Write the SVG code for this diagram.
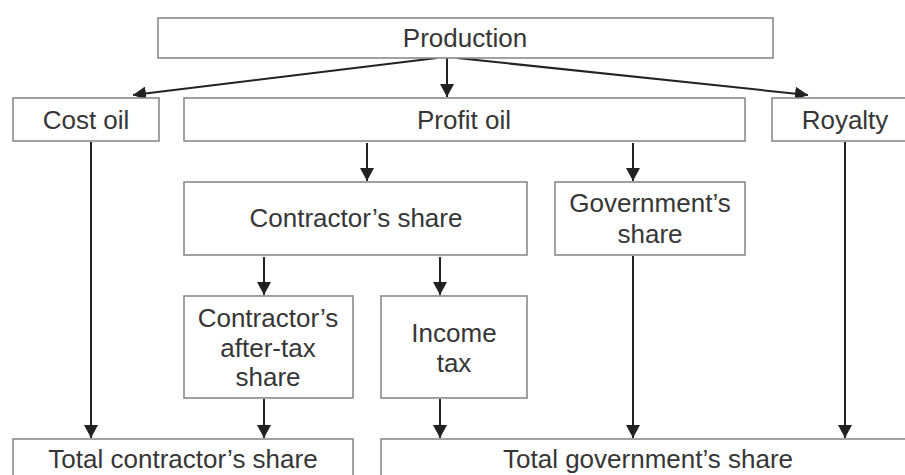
<svg xmlns="http://www.w3.org/2000/svg" width="905" height="475" viewBox="0 0 905 475">
<style>
  .box { fill: #ffffff; stroke: #8a8a8a; stroke-width: 1.6; }
  .lbl { font-family: "Liberation Sans", Arial, sans-serif; font-size: 26px; fill: #363636; text-anchor: middle; }
  .con { stroke: #222222; stroke-width: 2; fill: none; marker-end: url(#ah); }
</style>
<defs>
  <marker id="ah" viewBox="0 0 13 14" refX="13" refY="7" markerWidth="13" markerHeight="14" markerUnits="userSpaceOnUse" orient="auto">
    <path d="M0,0 L13,7 L0,14 z" fill="#222222"/>
  </marker>
</defs>
<rect width="905" height="475" fill="#ffffff"/>

<g id="connectors">
  <line class="con" x1="437" y1="58" x2="133" y2="95"/>
  <line class="con" x1="447" y1="58" x2="447" y2="97"/>
  <line class="con" x1="457" y1="58" x2="808" y2="95"/>
  <line class="con" x1="367" y1="143" x2="367" y2="181"/>
  <line class="con" x1="633" y1="143" x2="633" y2="181"/>
  <line class="con" x1="264" y1="257" x2="264" y2="295"/>
  <line class="con" x1="440" y1="257" x2="440" y2="295"/>
  <line class="con" x1="91" y1="142" x2="91" y2="438"/>
  <line class="con" x1="264" y1="399" x2="264" y2="438"/>
  <line class="con" x1="440" y1="399" x2="440" y2="438"/>
  <line class="con" x1="633" y1="256" x2="633" y2="438"/>
  <line class="con" x1="845" y1="142" x2="845" y2="438"/>
</g>

<g id="production">
  <rect class="box" x="158" y="18" width="615" height="40"/>
  <text class="lbl" x="465" y="47">Production</text>
</g>
<g id="cost-oil">
  <rect class="box" x="13" y="98" width="146" height="43"/>
  <text class="lbl" x="86" y="129">Cost oil</text>
</g>
<g id="profit-oil">
  <rect class="box" x="184" y="98" width="561" height="43"/>
  <text class="lbl" x="464" y="129">Profit oil</text>
</g>
<g id="royalty">
  <rect class="box" x="772" y="98" width="146" height="43"/>
  <text class="lbl" x="845" y="129">Royalty</text>
</g>
<g id="contractors-share">
  <rect class="box" x="184" y="182" width="343" height="73"/>
  <text class="lbl" x="356" y="227">Contractor’s share</text>
</g>
<g id="governments-share">
  <rect class="box" x="555" y="182" width="190" height="73"/>
  <text class="lbl" x="650" y="212">Government’s</text>
  <text class="lbl" x="650" y="243">share</text>
</g>
<g id="after-tax-share">
  <rect class="box" x="184" y="296" width="169" height="102"/>
  <text class="lbl" x="268" y="327">Contractor’s</text>
  <text class="lbl" x="268" y="357">after-tax</text>
  <text class="lbl" x="268" y="386">share</text>
</g>
<g id="income-tax">
  <rect class="box" x="381" y="296" width="146" height="102"/>
  <text class="lbl" x="454" y="342">Income</text>
  <text class="lbl" x="454" y="372">tax</text>
</g>
<g id="total-contractor">
  <rect class="box" x="13" y="439" width="340" height="60"/>
  <text class="lbl" x="183" y="468">Total contractor’s share</text>
</g>
<g id="total-government">
  <rect class="box" x="381" y="439" width="534" height="60"/>
  <text class="lbl" x="648" y="468">Total government’s share</text>
</g>
</svg>
